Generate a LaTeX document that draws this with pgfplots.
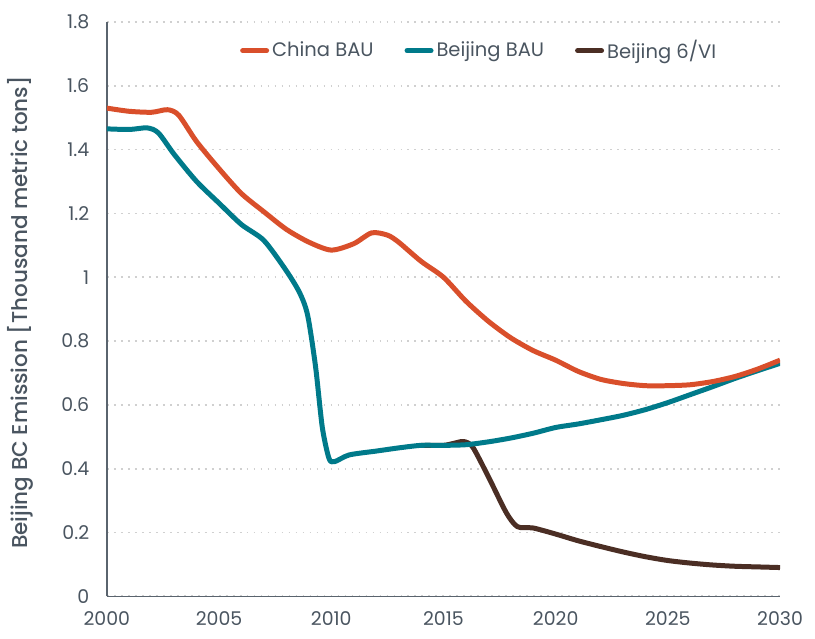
\documentclass[border=0pt]{standalone}
\usepackage{fontspec}
\setmainfont{Poppins}
\newfontfamily\medfont{Poppins Medium}
\usepackage{pgfplots}
\pgfplotsset{compat=1.18}
\definecolor{chinabau}{HTML}{D94F2B}
\definecolor{bjbau}{HTML}{007A8A}
\definecolor{bjvi}{HTML}{4B2E24}
\definecolor{txt}{HTML}{4A5560}
\definecolor{gridc}{HTML}{D0D0D0}
\definecolor{axc}{HTML}{5A646E}
\begin{document}
\fontsize{9.5}{11}\selectfont
\begin{tikzpicture}
\begin{axis}[
  at={(0,0)}, anchor=south west,
  scale only axis, width=337bp, height=287.5bp,
  xmin=2000, xmax=2030, ymin=0, ymax=1.8,
  xtick={2000,2005,...,2030},
  ytick={0,0.2,...,1.8},
  yticklabels={0,0.2,0.4,0.6,0.8,1,1.2,1.4,1.6,1.8},
  /pgf/number format/1000 sep={},
  /pgf/number format/assume math mode=true,
  axis x line=bottom, axis y line=left,
  axis line style={-, draw=axc, line width=0.7bp},
  major tick length=0pt,
  tick label style={font=\fontsize{9.5}{11}\selectfont, text=txt},
  xticklabel style={yshift=-6.5bp, inner sep=1bp},
  yticklabel style={xshift=-5.5bp},
  ymajorgrids,
  grid style={draw=gridc, line width=0.9bp, dash pattern=on 0.9bp off 2.6bp},
  ylabel={Beijing BC Emission [Thousand metric tons]},
  ylabel style={at={(axis description cs:-0.129,0.494)}, anchor=center, text=txt, font=\medfont\fontsize{10.8}{12}\selectfont},
  legend style={at={(axis description cs:0.91,0.95)}, anchor=east, draw=none, fill=none,
    font=\fontsize{9.8}{11}\selectfont, text=txt, legend columns=3,
    inner xsep=0pt, nodes={inner xsep=1.5bp},
    /tikz/every even column/.append style={column sep=14bp}},
  legend image code/.code={\draw[#1, line width=2.5bp, line cap=round] (0bp,0bp) -- (12bp,0bp);},
  every axis plot/.append style={line width=2.5bp, smooth, tension=0.45, line join=round},
]
\addlegendimage{chinabau}
\addlegendentry{China BAU}
\addlegendimage{bjbau}
\addlegendentry{Beijing BAU}
\addlegendimage{bjvi}
\addlegendentry{Beijing 6/VI}

% Beijing 6/VI
\addplot[bjvi, forget plot] coordinates {
(2014,0.473) (2015,0.473) (2015.5,0.480) (2015.9,0.485) (2016.3,0.468)
(2017,0.375) (2017.8,0.262) (2018.3,0.218) (2019,0.214) (2020,0.195)
(2021,0.174) (2022,0.156) (2023,0.139) (2024,0.124) (2025,0.112)
(2026,0.104) (2027,0.098) (2028,0.094) (2029,0.092) (2030,0.090)
};
% Beijing BAU
\addplot[bjbau, forget plot] coordinates {
(2000,1.465) (2001,1.463) (2001.8,1.468) (2002.3,1.452) (2003,1.385)
(2004,1.300) (2005,1.232) (2006,1.165) (2007,1.115) (2008,1.020)
(2008.6,0.950) (2008.95,0.880) (2009.3,0.720) (2009.6,0.530) (2009.9,0.432)
(2010.15,0.422) (2010.8,0.443) (2012,0.455) (2013,0.465) (2014,0.473)
(2015,0.473) (2016,0.475) (2017,0.484) (2018,0.496) (2019,0.511)
(2020,0.529) (2021,0.540) (2022,0.553) (2023,0.567) (2024,0.585)
(2025,0.607) (2026,0.632) (2027,0.657) (2028,0.683) (2029,0.707) (2030,0.730)
};
% China BAU
\addplot[chinabau, forget plot] coordinates {
(2000,1.530) (2001,1.520) (2002,1.517) (2002.7,1.525) (2003.2,1.508)
(2004,1.425) (2005,1.340) (2006,1.262) (2007,1.205) (2008,1.150)
(2009,1.110) (2010,1.085) (2011,1.105) (2011.8,1.139) (2012.5,1.132)
(2013,1.110) (2014,1.050) (2015,1.000) (2016,0.925) (2017,0.862)
(2018,0.810) (2019,0.770) (2020,0.740) (2021,0.705) (2022,0.680)
(2023,0.667) (2024,0.660) (2025,0.660) (2026,0.663) (2027,0.673)
(2028,0.689) (2029,0.712) (2030,0.740)
};
\end{axis}
\pgfresetboundingbox
\path (-53.5bp,-21bp) rectangle (354.5bp,298.5bp);
\end{tikzpicture}
\end{document}
